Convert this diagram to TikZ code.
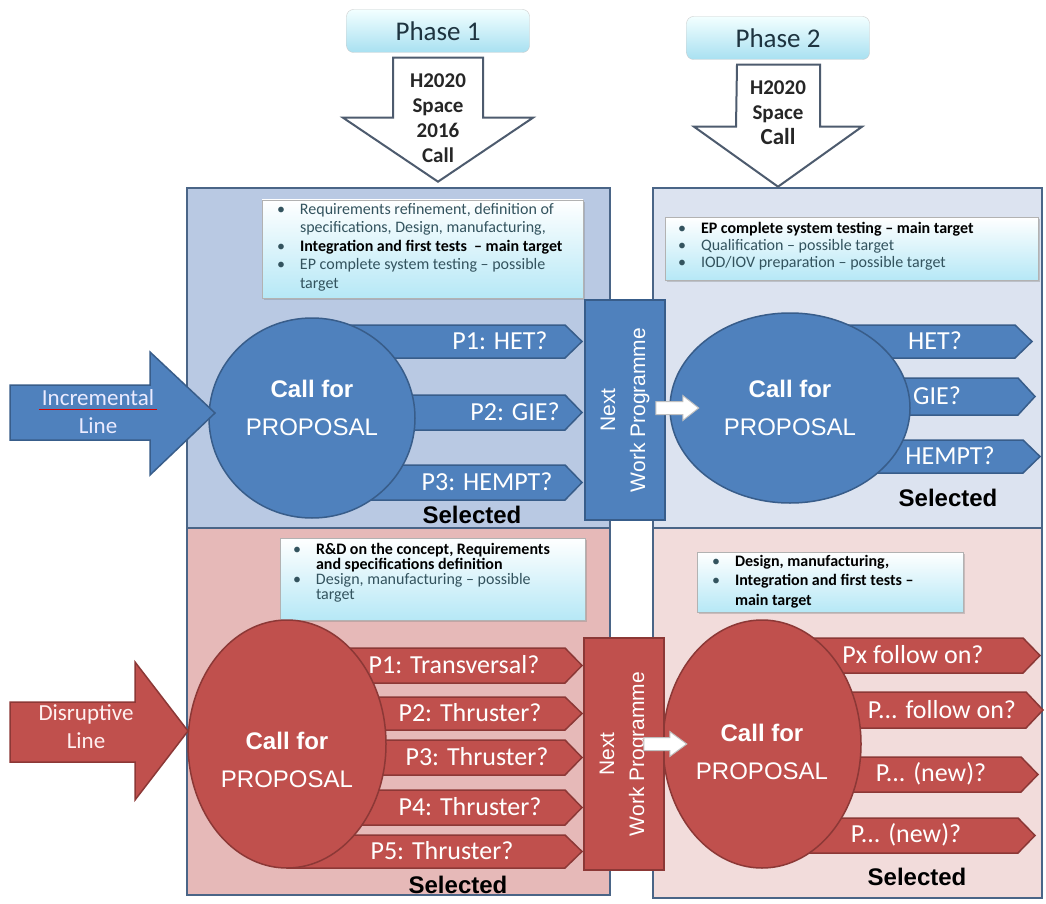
\documentclass[tikz,border=0pt]{standalone}
\usepackage{fontspec}
\setmainfont{Carlito}
\newfontfamily\arialfont{Liberation Sans}
\usetikzlibrary{positioning,shapes.geometric,shadows,fit}

% colores
\definecolor{bluefill}{HTML}{4F81BD}
\definecolor{blueline}{HTML}{385D8A}
\definecolor{redfill}{HTML}{C0504D}
\definecolor{redline}{HTML}{8C3836}
\definecolor{tlpanel}{HTML}{B9C9E3}
\definecolor{trpanel}{HTML}{DCE3F0}
\definecolor{blpanel}{HTML}{E6B9B8}
\definecolor{brpanel}{HTML}{F2DCDB}
\definecolor{panelline}{HTML}{4A6587}
\definecolor{bullgray}{HTML}{33535E}
\definecolor{boxcyan}{HTML}{B6E8F6}
\definecolor{phasecyan}{HTML}{A8E0F1}
\definecolor{phasetext}{HTML}{1E3440}
\definecolor{callline}{HTML}{4D5B6E}

% lista de puntos dentro de los cuadros
\newcommand\blist[2]{\begin{minipage}{#1}\raggedright #2\end{minipage}}
\newcommand\bul[1]{\par\hangindent=23pt\hangafter=1\noindent\makebox[23pt][l]{\textbullet}#1}
\newcommand\tdots{...}

\tikzset{
  panel/.style={draw=panelline,line width=1.6pt},
  infobox/.style={draw=gray!60,top color=white,bottom color=boxcyan,inner sep=0pt,
    drop shadow={shadow xshift=2pt,shadow yshift=-2pt,opacity=.35}},
  infotext/.style={anchor=north west,inner sep=0pt,font=\fontsize{16}{#1}\selectfont,text=bullgray},
  infotext/.default=17,
  phasebox/.style={draw=gray!40,rounded corners=7pt,top color=cyan!5,bottom color=phasecyan,
    minimum width=183pt,minimum height=43pt,font=\fontsize{27}{30}\selectfont,text=phasetext},
  callarrow/.style={draw=callline,line width=2pt,fill=white},
  calltext/.style={align=center,text=black!85,font=\bfseries\fontsize{21}{25}\selectfont},
  cfp/.style={ellipse,line width=1.5pt,inner sep=0pt},
  cfptext/.style={align=center,text=white,font=\arialfont\fontsize{24}{38}\selectfont},
  prop/.style={line width=1.5pt},
  plabel/.style={text=white,font=\fontsize{26}{28}\selectfont,inner sep=0pt},
  selected/.style={font=\arialfont\bfseries\fontsize{24}{26}\selectfont},
  nwp/.style={draw,line width=1.5pt,minimum width=80pt,inner sep=0pt},
  nwptext/.style={rotate=90,align=center,text=white,font=\arialfont\fontsize{21}{30}\selectfont},
  linetext/.style={align=center,font=\fontsize{23}{28}\selectfont},
  nextarrow/.style={draw=gray!50,fill=white,line width=1pt},
  bigarrow/.style={line width=1.5pt},
}

\begin{document}
\begin{tikzpicture}[x=1pt,y=-1pt]
\fill[white] (0,0) rectangle (1046,904);
\useasboundingbox (0,0) rectangle (1046,904);

% paneles
\draw[panel,fill=tlpanel] (187,188) rectangle (610,528);
\draw[panel,fill=trpanel] (653,188) rectangle (1042,528);
\draw[panel,fill=blpanel] (187,528) rectangle (610,895);
\draw[panel,fill=brpanel] (653,528) rectangle (1042,898);

% cuadros de texto
\node[infobox,fit={(262,200) (583,298)}] (req1) {};
\node[infotext=18.5] (req1t) at ([shift={(15,3)}]req1.north west) {\blist{300pt}{\bul{Requirements refinement, definition of\newline specifications, Design, manufacturing,}\bul{\textbf{\color{black}Integration and first tests~ – main target}}\bul{EP complete system testing – possible\newline target}}};
\node[infobox,fit={(665,217) (1038,280)}] (req2) {};
\node[infotext] (req2t) at ([shift={(13,5)}]req2.north west) {\blist{350pt}{\bul{\textbf{\color{black}EP complete system testing – main target}}\bul{Qualification – possible target}\bul{IOD/IOV preparation – possible target}}};
\node[infobox,fit={(280,538) (585,620)}] (req3) {};
\node[infotext=15] (req3t) at ([shift={(13,5)}]req3.north west) {\blist{285pt}{\bul{\textbf{\color{black}R\&D on the concept, Requirements\newline and specifications definition}}\bul{Design, manufacturing – possible\newline target}}};
\node[infobox,fit={(697,552) (963,612)}] (req4) {};
\node[infotext=19.5] (req4t) at ([shift={(15,3)}]req4.north west) {\blist{245pt}{\bul{\textbf{\color{black}Design, manufacturing,}}\bul{\textbf{\color{black}Integration and first tests –\newline main target}}}};

% flechas de propuestas (detras de los circulos)
\foreach \ya/\yb/\xt in {325/358/582,395/430/582,465/500/582}
  \draw[prop,draw=blueline,fill=bluefill] (312,\ya) -- (\xt-17,\ya) -- (\xt,{(\ya+\yb)/2}) -- (\xt-17,\yb) -- (312,\yb) -- cycle;
\foreach \ya/\yb/\xt in {325/358/1032,378/415/1035,440/473/1040}
  \draw[prop,draw=blueline,fill=bluefill] (790,\ya) -- (\xt-17,\ya) -- (\xt,{(\ya+\yb)/2}) -- (\xt-17,\yb) -- (790,\yb) -- cycle;
\foreach \ya/\yb/\xt in {648/683/582,697/730/582,740/775/582,790/825/582,835/868/582}
  \draw[prop,draw=redline,fill=redfill] (287,\ya) -- (\xt-17,\ya) -- (\xt,{(\ya+\yb)/2}) -- (\xt-17,\yb) -- (287,\yb) -- cycle;
\foreach \ya/\yb/\xt in {638/673/1040,692/728/1043,757/792/1038,818/853/1035}
  \draw[prop,draw=redline,fill=redfill] (762,\ya) -- (\xt-17,\ya) -- (\xt,{(\ya+\yb)/2}) -- (\xt-17,\yb) -- (762,\yb) -- cycle;

% circulos
\node[cfp,draw=blueline,fill=bluefill,minimum width=206pt,minimum height=200pt] (cfp1) at (312,418) {};
\node[cfp,draw=blueline,fill=bluefill,minimum width=240pt,minimum height=190pt] (cfp2) at (790,408) {};
\node[cfp,draw=redline,fill=redfill,minimum width=198pt,minimum height=248pt] (cfp3) at (287,744) {};
\node[cfp,draw=redline,fill=redfill,minimum width=198pt,minimum height=248pt] (cfp4) at (762,744) {};
\node[cfptext] (cfpt1) at ([yshift=10pt]cfp1) {\textbf{Call for}\\PROPOSAL};
\node[cfptext] (cfpt2) at (cfp2) {\textbf{Call for}\\PROPOSAL};
\node[cfptext] (cfpt3) at ([yshift=-16pt]cfp3) {\textbf{Call for}\\PROPOSAL};
\node[cfptext] (cfpt4) at ([yshift=-8pt]cfp4) {\textbf{Call for}\\PROPOSAL};

% etiquetas de las flechas
\foreach \t/\x/\y [count=\i] in {P1: HET?/500/341,P2: GIE?/515/412,P3: HEMPT?/487/482}
  \node[plabel] (a\i) at (\x,\y) {\t};
\foreach \t/\x/\y [count=\i] in {HET?/935/341,GIE?/937/396,HEMPT?/950/456}
  \node[plabel] (b\i) at (\x,\y) {\t};
\foreach \t/\x/\y [count=\i] in {P1: Transversal?/454/665,P2: Thruster?/470/713,P3: Thruster?/477/757,P4: Thruster?/470/807,P5: Thruster?/442/851}
  \node[plabel] (c\i) at (\x,\y) {\t};
\foreach \t/\x/\y [count=\i] in {Px follow on?/913/655,P\tdots{} follow on?/942/710,P\tdots{} (new)?/931/774,P\tdots{} (new)?/906/835}
  \node[plabel] (d\i) at (\x,\y) {\t};

\node[selected] (sel1) at (472,515) {Selected};
\node[selected] (sel2) at (948,498) {Selected};
\node[selected] (sel3) at (458,885) {Selected};
\node[selected] (sel4) at (917,877) {Selected};

% siguiente programa de trabajo
\node[nwp,draw=blueline,fill=bluefill,minimum height=220pt] (nwp1) at (625,410) {};
\node[nwptext] (nwpt1) at (nwp1) {Next\\Work Programme};
\node[nwp,draw=redline,fill=redfill,minimum height=232pt] (nwp2) at (624,754) {};
\node[nwptext] (nwpt2) at (nwp2) {Next\\Work Programme};
\coordinate (w1) at (nwp1.east |- cfp2.west);
\coordinate (w2) at (nwp2.east |- cfp4.west);
\draw[nextarrow] ([shift={(-10,-6.5)}]w1) -- ++(27,0) -- ++(0,-6) -- ++(16,12.5) -- ++(-16,12.5) -- ++(0,-6) -- ++(-27,0) -- cycle;
\draw[nextarrow] ([shift={(-21,-6.5)}]w2) -- ++(26,0) -- ++(0,-6) -- ++(17,12.5) -- ++(-17,12.5) -- ++(0,-6) -- ++(-26,0) -- cycle;

% lineas de entrada
\draw[bigarrow,draw=blueline,fill=bluefill] (10,385) -- (150,385) -- (150,352) -- (215,413) -- (150,475) -- (150,440) -- (10,440) -- cycle;
\node[linetext,text=blue!8!white] (inc) at (98,412) {Incremental\\Line};
\draw[red!85!black,line width=0.8pt] (39,409) -- (157,409);
\draw[bigarrow,draw=redline,fill=redfill] (10,702) -- (135,702) -- (135,662) -- (188,731) -- (135,800) -- (135,762) -- (10,762) -- cycle;
\node[linetext,text=red!6!white] (dis) at (86,727) {Disruptive\\Line};

% fases
\node[phasebox] (ph1) at (438,31) {Phase 1};
\node[phasebox] (ph2) at (778,38) {Phase 2};
\draw[callarrow] ([shift={(-45,5)}]ph1.south) -- ++(90,0) -- ++(0,60) -- ++(50,0) -- ++(-95,64) -- ++(-95,-64) -- ++(50,0) -- cycle;
\node[calltext] (call1) at ([yshift=-65pt]ph1.south) {H2020\\Space\\2016\\Call};
\draw[callarrow] ([shift={(-41,5)}]ph2.south) -- ++(83,0) -- ++(0,62) -- ++(42,0) -- ++(-84,60) -- ++(-84,-60) -- ++(42,0) -- cycle;
\node[calltext] (call2) at ([yshift=-53pt]ph2.south) {H2020\\Space\\{\fontsize{23}{25}\selectfont Call}};
\end{tikzpicture}
\end{document}
